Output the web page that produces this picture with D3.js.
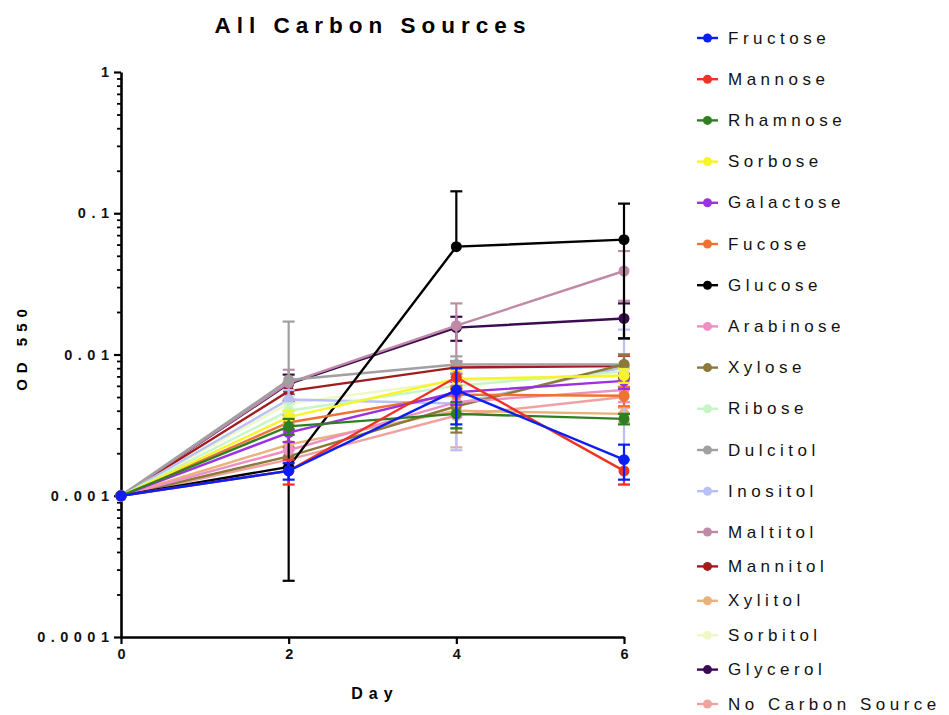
<!DOCTYPE html>
<html>
<head>
<meta charset="utf-8">
<script src="https://cdn.jsdelivr.net/npm/d3@7"></script>
<style>
  body { margin: 0; background: #fff; }
  svg { font-family: "Liberation Sans", Arial, sans-serif; }
</style>
</head>
<body>
<div id="vis"></div>
<script>
const days = [0, 2, 4, 6];
const names = ['Fructose', 'Mannose', 'Rhamnose', 'Sorbose', 'Galactose', 'Fucose',
  'Glucose', 'Arabinose', 'Xylose', 'Ribose', 'Dulcitol', 'Inositol',
  'Maltitol', 'Mannitol', 'Xylitol', 'Sorbitol', 'Glycerol', 'No Carbon Source'];
const colors = ['#0a1ef5', '#ee3326', '#2f7f22', '#f7f52a', '#9b32e0', '#f07232',
  '#000000', '#f08ec6', '#8b7a3c', '#c6f5c6', '#a0a0a0', '#b9c0f5',
  '#c08aa6', '#a11d1d', '#e9b27a', '#eef8c6', '#3b0b52', '#f0a2a0'];

// mean OD550 per series, one value per day
const meanOD = [
  [0.001, 0.0015, 0.0056, 0.0018],  // Fructose
  [0.001, 0.0015, 0.0069, 0.0015],  // Mannose
  [0.001, 0.0031, 0.0038, 0.0035],  // Rhamnose
  [0.001, 0.0036, 0.0067, 0.0071],  // Sorbose
  [0.001, 0.0028, 0.0054, 0.0065],  // Galactose
  [0.001, 0.0033, 0.0052, 0.0051],  // Fucose
  [0.001, 0.0016, 0.058, 0.065],    // Glucose
  [0.001, 0.0021, 0.0046, 0.0056],  // Arabinose
  [0.001, 0.0019, 0.0043, 0.0085],  // Xylose
  [0.001, 0.004, 0.006, 0.0076],    // Ribose
  [0.001, 0.0066, 0.0085, 0.0085],  // Dulcitol
  [0.001, 0.0048, 0.0045, 0.0081],  // Inositol
  [0.001, 0.0063, 0.016, 0.039],    // Maltitol
  [0.001, 0.0055, 0.0081, 0.0083],  // Mannitol
  [0.001, 0.0023, 0.004, 0.0038],   // Xylitol
  [0.001, 0.0045, 0.0065, 0.007],   // Sorbitol
  [0.001, 0.0062, 0.0155, 0.018],   // Glycerol
  [0.001, 0.0018, 0.0037, 0.005]    // No Carbon Source
];
// standard deviations
const sdOD = [
  [0, 0.0002, 0.0024, 0.0005],
  [0, 0.0003, 0.0012, 0.0003],
  [0, 0.0004, 0.0008, 0.0003],
  [0, 0.0004, 0.001, 0.0008],
  [0, 0.0004, 0.001, 0.0008],
  [0, 0.0004, 0.0008, 0.0008],
  [0, 0.00135, 0.085, 0.052],
  [0, 0.0003, 0.001, 0.001],
  [0, 0.0003, 0.0015, 0.0015],
  [0, 0.0005, 0.001, 0.001],
  [0, 0.0105, 0.0012, 0.0015],
  [0, 0.0008, 0.0024, 0.0069],
  [0, 0.0015, 0.007, 0.015],
  [0, 0.0008, 0.0008, 0.0015],
  [0, 0.0004, 0.001, 0.0005],
  [0, 0.0006, 0.0015, 0.001],
  [0, 0.001, 0.003, 0.005],
  [0, 0.0003, 0.0015, 0.0008]
];
const yTicks = [0.0001, 0.001, 0.01, 0.1, 1];
const yTickLabels = ['0.0001', '0.001', '0.01', '0.1', '1'];

const W = 949, H = 715;
const svg = d3.select('#vis').append('svg')
  .attr('width', W).attr('height', H);

const x = d3.scaleLinear().domain([0, 6]).range([121, 624]);
const y = d3.scaleLog().domain([0.0001, 1]).range([637, 72]);

// minor ticks on the log axis
const minor = [];
yTicks.slice(0, -1).forEach(t => { for (let k = 2; k <= 9; k++) minor.push(t * k); });

svg.append('g')
  .attr('transform', 'translate(121,0)')
  .call(d3.axisLeft(y).tickValues(minor).tickSize(4).tickFormat(''))
  .call(g => g.select('.domain').remove())
  .call(g => g.selectAll('line').attr('stroke-width', 1.8));

svg.append('g')
  .attr('transform', 'translate(121,0)')
  .call(d3.axisLeft(y).tickValues(yTicks).tickSize(7).tickSizeOuter(0)
    .tickFormat((d, i) => yTickLabels[i]))
  .call(g => g.select('.domain').attr('stroke-width', 2.6))
  .call(g => g.selectAll('line').attr('stroke-width', 2.2))
  .call(g => g.selectAll('text')
    .attr('font-size', 14.5).attr('font-weight', 'bold')
    .attr('letter-spacing', '5.5px').attr('dx', 5.5).attr('x', -12)
    .attr('fill', '#111'));

svg.append('g')
  .attr('transform', 'translate(0,637)')
  .call(d3.axisBottom(x).tickValues(days).tickSize(7).tickSizeOuter(0)
    .tickFormat(d3.format('d')))
  .call(g => g.select('.domain').attr('stroke-width', 2.6))
  .call(g => g.selectAll('line').attr('stroke-width', 2.2))
  .call(g => g.selectAll('text')
    .attr('font-size', 14.5).attr('font-weight', 'bold').attr('y', 12)
    .attr('fill', '#111'));

// title and axis labels
svg.append('text')
  .attr('x', 370 + 3).attr('y', 33)
  .attr('text-anchor', 'middle')
  .attr('font-size', 22.5).attr('font-weight', 'bold')
  .attr('letter-spacing', '6px')
  .text('All Carbon Sources');

svg.append('text')
  .attr('transform', 'translate(27,350) rotate(-90)')
  .attr('text-anchor', 'middle').attr('dx', 3)
  .attr('font-size', 15).attr('font-weight', 'bold')
  .attr('letter-spacing', '6px')
  .text('OD 550');

svg.append('text')
  .attr('x', 372 + 3).attr('y', 699)
  .attr('text-anchor', 'middle')
  .attr('font-size', 16).attr('font-weight', 'bold')
  .attr('letter-spacing', '6px')
  .text('Day');

// series, drawn last-to-first so Fructose sits on top
const line = d3.line().x((d, i) => x(days[i])).y(d => y(d));
const order = d3.range(names.length).reverse();

order.forEach(s => {
  const g = svg.append('g').attr('class', 'series');
  const c = colors[s];
  // error bars
  meanOD[s].forEach((m, i) => {
    const sd = sdOD[s][i];
    if (!sd) return;
    const cx = x(days[i]);
    const hi = m + sd;
    const lo = m - sd;
    const yTop = y(hi);
    const yBot = lo > 0 ? y(lo) : y(m);
    g.append('line').attr('x1', cx).attr('x2', cx)
      .attr('y1', yTop).attr('y2', yBot)
      .attr('stroke', c).attr('stroke-width', 2.2);
    g.append('line').attr('x1', cx - 6).attr('x2', cx + 6)
      .attr('y1', yTop).attr('y2', yTop)
      .attr('stroke', c).attr('stroke-width', 2.2);
    if (lo > 0) {
      g.append('line').attr('x1', cx - 6).attr('x2', cx + 6)
        .attr('y1', yBot).attr('y2', yBot)
        .attr('stroke', c).attr('stroke-width', 2.2);
    }
  });
  g.append('path')
    .attr('d', line(meanOD[s]))
    .attr('fill', 'none')
    .attr('stroke', c).attr('stroke-width', 2.4);
  g.selectAll('circle').data(meanOD[s]).join('circle')
    .attr('cx', (d, i) => x(days[i]))
    .attr('cy', d => y(d))
    .attr('r', 5.5)
    .attr('fill', c);
});

// legend
const legendY = i => i < 12 ? 38 + i * 41.2 : 532 + (i - 12) * 34.4;
const legend = svg.append('g').attr('class', 'legend');
names.forEach((n, i) => {
  const ly = legendY(i);
  legend.append('line')
    .attr('x1', 697).attr('x2', 718).attr('y1', ly).attr('y2', ly)
    .attr('stroke', colors[i]).attr('stroke-width', 2.4);
  legend.append('circle')
    .attr('cx', 707.5).attr('cy', ly).attr('r', 4.5)
    .attr('fill', colors[i]);
  legend.append('text')
    .attr('x', 728).attr('y', ly + 5.5)
    .attr('font-size', 17)
    .attr('letter-spacing', '4.5px')
    .attr('fill', '#111')
    .text(n);
});
</script>
</body>
</html>
